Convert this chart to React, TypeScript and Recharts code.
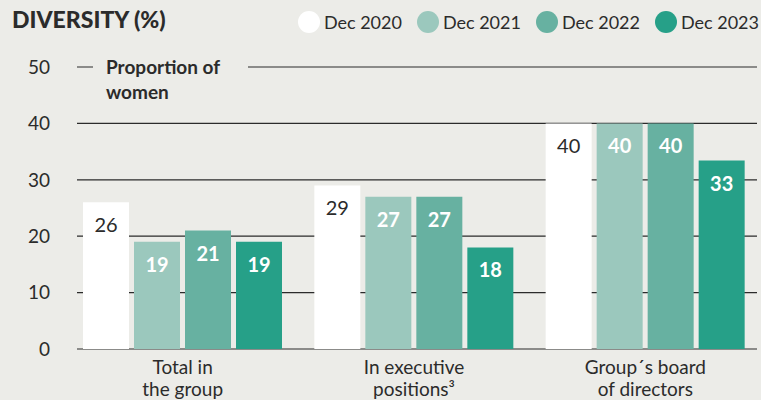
import React from "react";
import { BarChart, Bar, XAxis, YAxis, CartesianGrid, LabelList } from "recharts";

const categories = ["Total in|the group", "In executive|positions³", "Group´s board|of directors"];
const dec2020 = [26, 29, 40];
const dec2021 = [19, 27, 40];
const dec2022 = [21, 27, 40];
const dec2023 = [19, 18, 33.4];
const yTicks = [0, 10, 20, 30, 40, 50];

const series = [
  { key: "dec2020", name: "Dec 2020", color: "#ffffff", text: "#2b2b2b", weight: 400 },
  { key: "dec2021", name: "Dec 2021", color: "#9bc8bd", text: "#ffffff", weight: 700 },
  { key: "dec2022", name: "Dec 2022", color: "#67b1a1", text: "#ffffff", weight: 700 },
  { key: "dec2023", name: "Dec 2023", color: "#26a088", text: "#ffffff", weight: 700 },
];

const data = categories.map((c, i) => ({
  cat: c,
  dec2020: dec2020[i],
  dec2021: dec2021[i],
  dec2022: dec2022[i],
  dec2023: dec2023[i],
}));

const BG = "#ecece8";
const INK = "#2b2b2b";
const FONT = "Lato, 'Noto Sans', sans-serif";

const GridLine = (props: any) => (
  <line x1={props.x1 + 10} x2={props.x2 - 4} y1={props.y1} y2={props.y2} stroke={INK} strokeWidth={1.2} />
);

const CatTick = ({ x, y, payload }: any) => {
  const [a, b] = String(payload.value).split("|");
  return (
    <text x={x} y={y} textAnchor="middle" fill={INK} fontSize={19} fontFamily={FONT}>
      <tspan x={x} dy={17}>{a}</tspan>
      <tspan x={x} dy={22}>{b}</tspan>
    </text>
  );
};

const makeLabel = (s: any) => (p: any) => (
  <text
    x={p.x + p.width / 2}
    y={p.y + 22}
    textAnchor="middle"
    dominantBaseline="central"
    fill={s.text}
    fontSize={20}
    fontWeight={s.weight}
    fontFamily={FONT}
  >
    {Math.round(p.value)}
  </text>
);

const ChartLegend = () => (
  <div
    style={{
      position: "absolute",
      right: 2,
      top: 11,
      display: "flex",
      gap: 15,
      fontFamily: FONT,
      fontSize: 18,
      color: INK,
    }}
  >
    {series.map((s) => (
      <div key={s.key} style={{ display: "flex", alignItems: "center", gap: 4 }}>
        <span style={{ width: 22, height: 22, borderRadius: 11, background: s.color, display: "inline-block" }} />
        <span>{s.name}</span>
      </div>
    ))}
  </div>
);

export default function App() {
  return (
    <div style={{ position: "absolute", left: 0, top: 0, width: 761, height: 400, background: BG, overflow: "hidden" }}>
      <div style={{ position: "absolute", left: 12, top: 5, fontFamily: FONT, fontWeight: 900, fontSize: 23, color: INK }}>
        DIVERSITY (%)
      </div>
      <ChartLegend />
      <BarChart
        width={761}
        height={400}
        data={data}
        margin={{ top: 67, right: 0, left: 0, bottom: 0 }}
        barSize={46}
        barGap={5}
      >
        <CartesianGrid vertical={false} horizontal={GridLine as any} />
        <XAxis dataKey="cat" axisLine={false} tickLine={false} tick={<CatTick />} height={51} interval={0} />
        <YAxis
          domain={[0, 50]}
          ticks={yTicks}
          width={67}
          axisLine={false}
          tickLine={false}
          tickMargin={11}
          tick={{ fill: INK, fontSize: 19, fontFamily: FONT }}
        />
        {series.map((s) => (
          <Bar key={s.key} dataKey={s.key} name={s.name} fill={s.color} isAnimationActive={false}>
            <LabelList dataKey={s.key} content={makeLabel(s)} />
          </Bar>
        ))}
      </BarChart>
      <div
        style={{
          position: "absolute",
          left: 93,
          top: 54,
          width: 142,
          paddingLeft: 13,
          background: BG,
          fontFamily: FONT,
          fontWeight: 700,
          fontSize: 19,
          lineHeight: "25px",
          color: INK,
        }}
      >
        Proportion of
        <br />
        women
      </div>
    </div>
  );
}
